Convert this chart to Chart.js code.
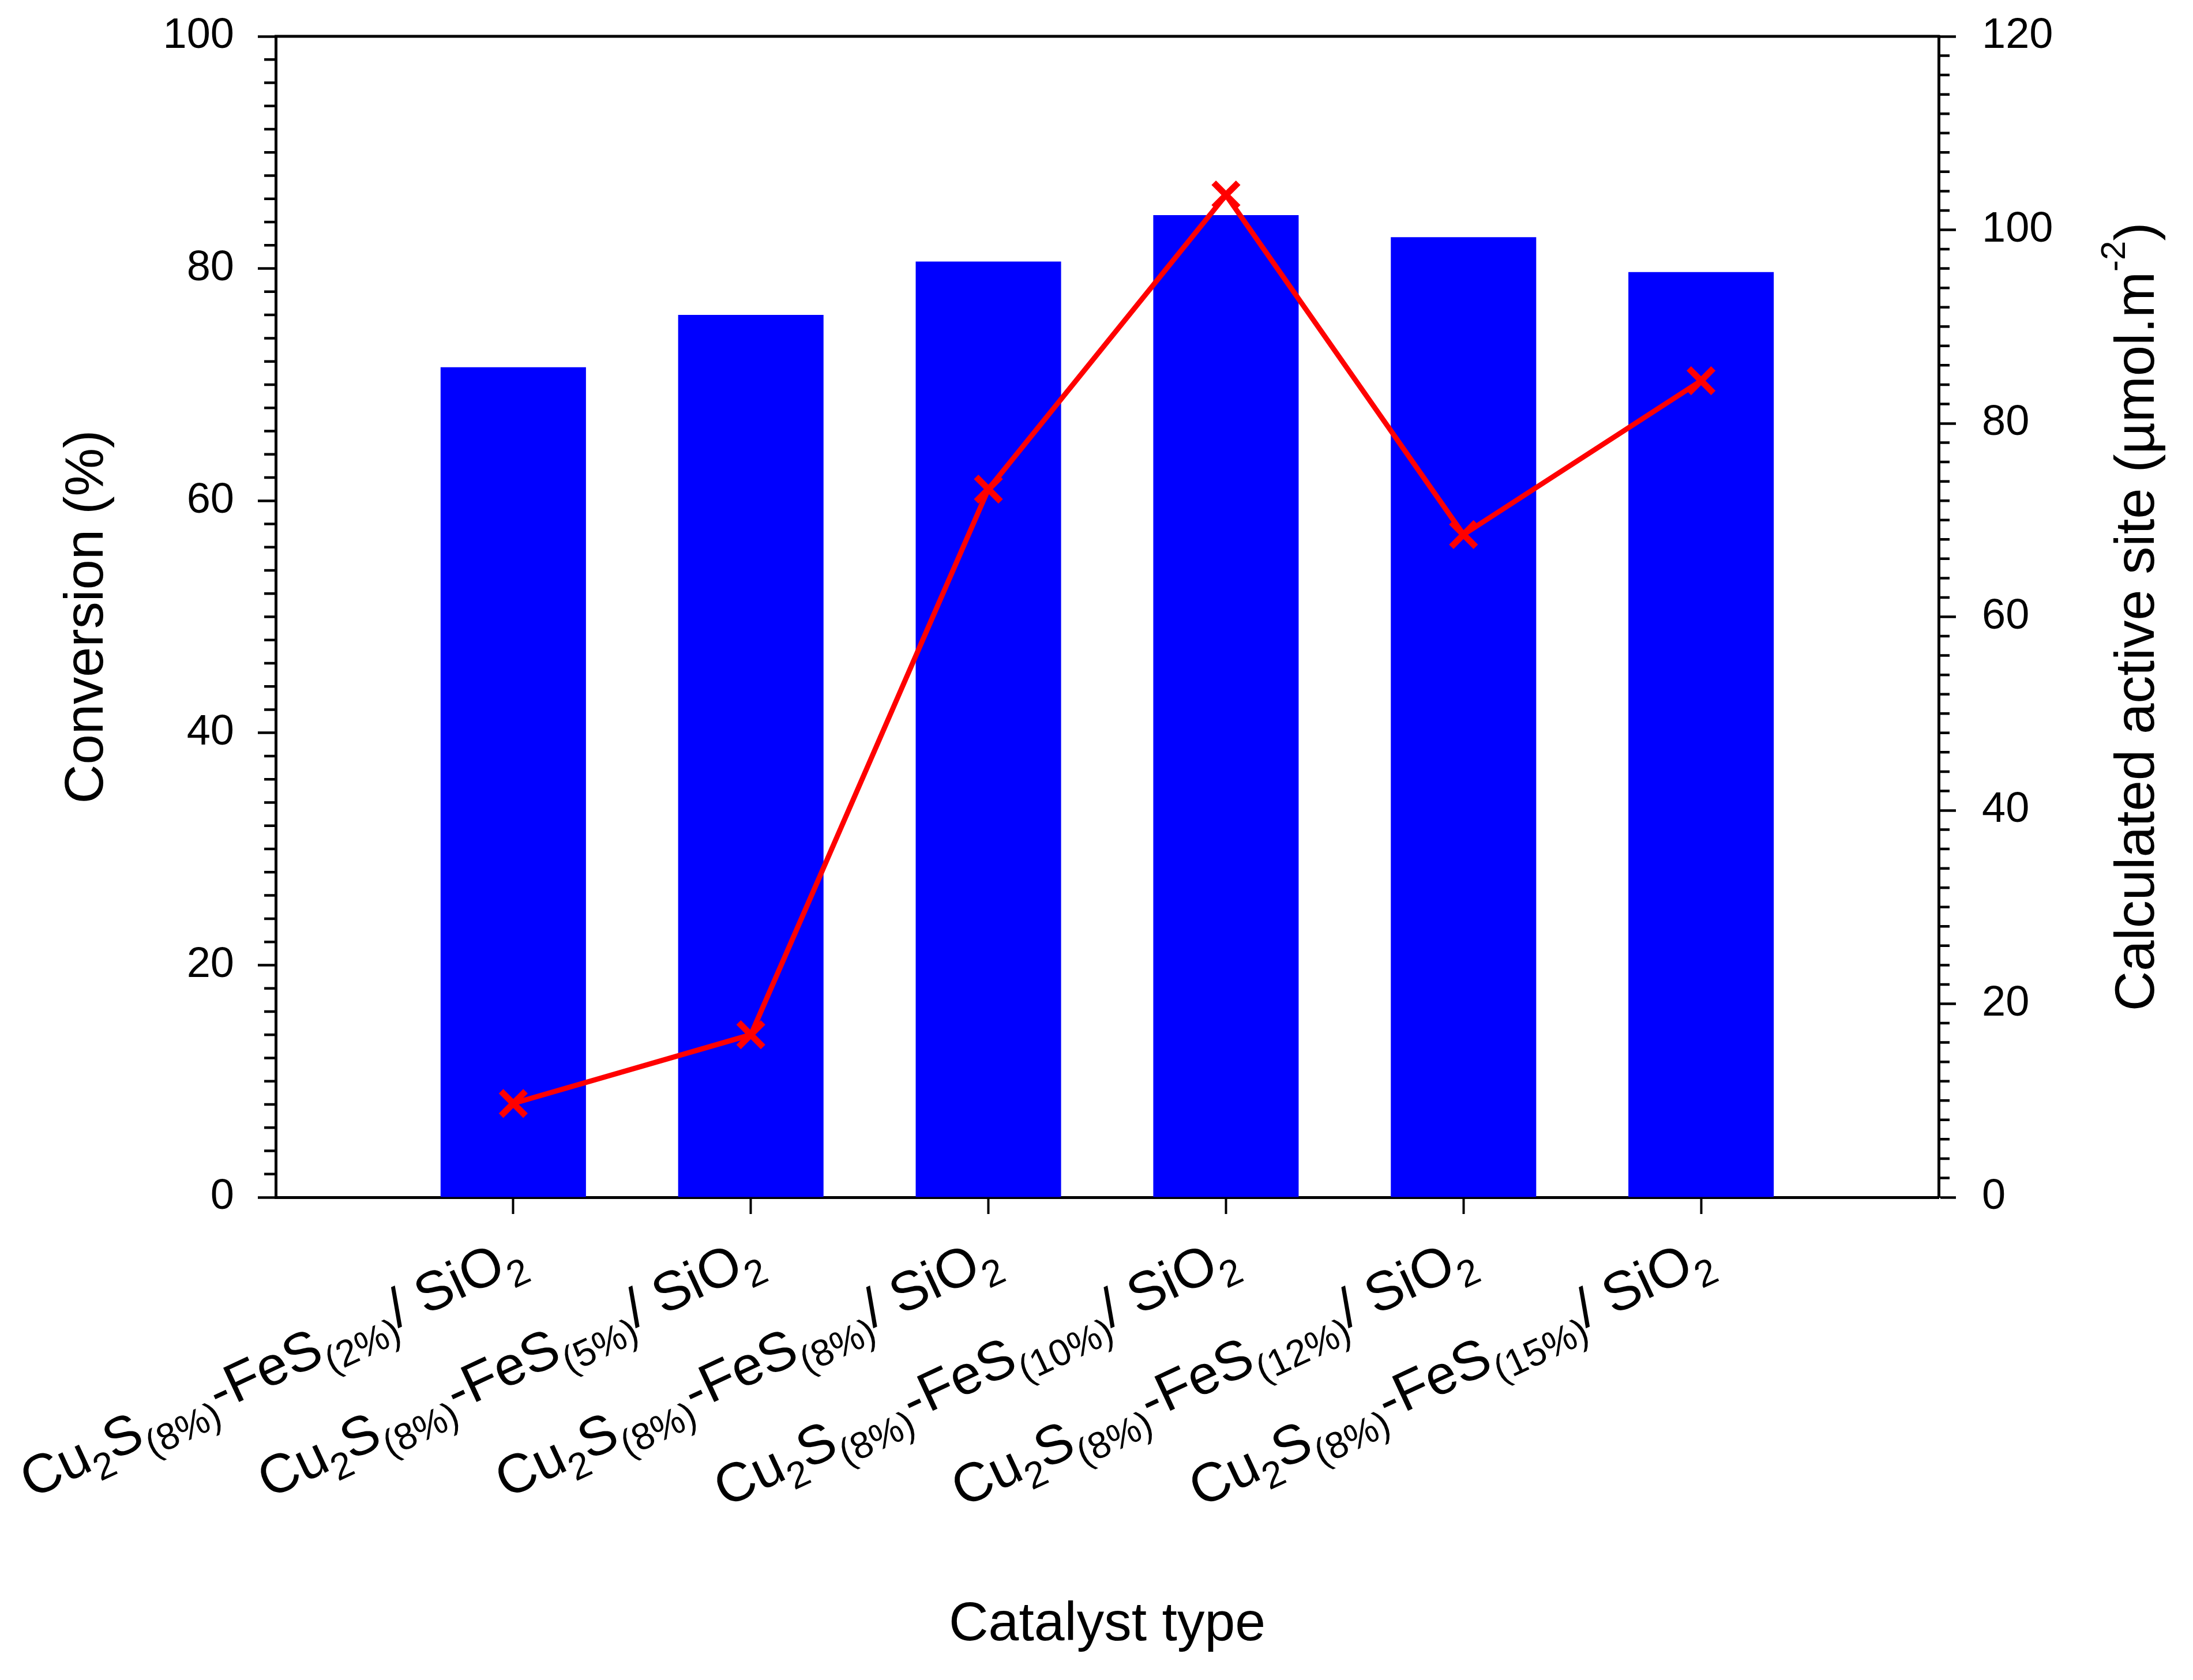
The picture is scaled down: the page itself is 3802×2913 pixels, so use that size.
<!DOCTYPE html>
<html>
<head>
<meta charset="utf-8">
<script src="https://cdn.jsdelivr.net/npm/chart.js@4.4.1/dist/chart.umd.min.js"></script>
<style>
html, body { margin: 0; padding: 0; background: #fff; }
#wrap { width: 3802px; height: 2913px; }
</style>
</head>
<body>
<div id="wrap"><canvas id="chart" width="3802" height="2913"></canvas></div>
<script>
// Categorias do eixo x (os subscritos são marcados na hora de desenhar)
const catalysts = [
    'Cu2S(8%)-FeS(2%)/ SiO2',
    'Cu2S(8%)-FeS(5%)/ SiO2',
    'Cu2S(8%)-FeS(8%)/ SiO2',
    'Cu2S(8%)-FeS(10%)/ SiO2',
    'Cu2S(8%)-FeS(12%)/ SiO2',
    'Cu2S(8%)-FeS(15%)/ SiO2'
];

// Conversão (%) - barras, eixo da esquerda
const conversion = [71.5, 76.0, 80.6, 84.6, 82.7, 79.7];

// Sítios ativos calculados (µmol.m-2) - linha, eixo da direita
const activeSite = [9.7, 16.8, 73.2, 103.6, 68.5, 84.4];

// Marcas dos eixos
const leftTicks = [0, 20, 40, 60, 80, 100];
const rightTicks = [0, 20, 40, 60, 80, 100, 120];
const minorStep = 2;

const fontFamily = "'Liberation Sans', Arial, sans-serif";
Chart.defaults.font.family = fontFamily;
Chart.defaults.color = '#000';

// Quebra o rótulo em pedaços normais e subscritos
function splitRich(label) {
    const parts = [];
    const re = /\([^)]*\)|(?<=[A-Za-z])\d+/g;
    let last = 0;
    let m;
    while ((m = re.exec(label)) !== null) {
        if (m.index > last) parts.push({ text: label.slice(last, m.index), shift: 0 });
        parts.push({ text: m[0], shift: 1 });
        last = m.index + m[0].length;
    }
    if (last < label.length) parts.push({ text: label.slice(last), shift: 0 });
    return parts;
}

// Desenha texto com sub/sobrescrito; align 'right' termina em x=0, 'center' centraliza
function drawRich(ctx, parts, size, align, ratio) {
    const small = Math.round(size * ratio);
    let total = 0;
    parts.forEach(p => {
        ctx.font = (p.shift ? small : size) + 'px ' + fontFamily;
        p.w = ctx.measureText(p.text).width;
        total += p.w;
    });
    let x = align === 'center' ? -total / 2 : -total;
    parts.forEach(p => {
        ctx.font = (p.shift ? small : size) + 'px ' + fontFamily;
        let dy = 0;
        if (p.shift === 1) dy = size * 0.25;
        if (p.shift === -1) dy = -size * 0.42;
        ctx.fillText(p.text, x, dy);
        x += p.w;
    });
}

// Tira o espaço extra que o Chart.js reserva para os rótulos das pontas
function noScalePadding(scale) {
    scale.paddingTop = 0;
    scale.paddingBottom = 0;
    scale.paddingLeft = 0;
    scale.paddingRight = 0;
}

// Plugin: moldura de cima, ticks menores, rótulos das categorias e título da direita
const extras = {
    id: 'extras',
    afterDraw(chart) {
        const ctx = chart.ctx;
        const { top, left, right, bottom } = chart.chartArea;
        const yL = chart.scales.y;
        const yR = chart.scales.y1;
        const xs = chart.scales.x;

        ctx.save();
        ctx.strokeStyle = '#000';
        ctx.lineWidth = 5;
        ctx.beginPath();
        ctx.moveTo(left - 2, top);
        ctx.lineTo(right + 2, top);
        ctx.stroke();

        // ticks menores
        ctx.lineWidth = 4.5;
        ctx.beginPath();
        for (let v = 0; v <= 100; v += minorStep) {
            if (v % 20 === 0) continue;
            const py = yL.getPixelForValue(v);
            ctx.moveTo(left - 20, py);
            ctx.lineTo(left, py);
        }
        for (let v = 0; v <= 120; v += minorStep) {
            if (v % 20 === 0) continue;
            const py = yR.getPixelForValue(v);
            ctx.moveTo(right, py);
            ctx.lineTo(right + 19, py);
        }
        ctx.stroke();

        // rótulos inclinados das categorias
        ctx.fillStyle = '#000';
        ctx.textBaseline = 'alphabetic';
        ctx.textAlign = 'left';
        catalysts.forEach((label, i) => {
            const px = xs.getPixelForValue(i + 1);
            ctx.save();
            ctx.translate(px + 24, bottom + 122);
            ctx.rotate(-25 * Math.PI / 180);
            drawRich(ctx, splitRich(label), 95, 'right', 0.68);
            ctx.restore();
        });

        // título do eixo da direita (lido de baixo para cima)
        ctx.save();
        ctx.translate(3708, (top + bottom) / 2);
        ctx.rotate(-Math.PI / 2);
        ctx.textBaseline = 'middle';
        drawRich(ctx, [
            { text: 'Calculated active site (\u00b5mol.m', shift: 0 },
            { text: '-2', shift: -1 },
            { text: ')', shift: 0 }
        ], 96, 'center', 0.62);
        ctx.restore();

        ctx.restore();
    }
};

const ctx = document.getElementById('chart').getContext('2d');
new Chart(ctx, {
    type: 'bar',
    data: {
        datasets: [
            {
                type: 'line',
                label: 'Calculated active site',
                data: activeSite.map((v, i) => ({ x: i + 1, y: v })),
                yAxisID: 'y1',
                borderColor: '#ff0000',
                backgroundColor: '#ff0000',
                borderWidth: 9,
                pointStyle: 'crossRot',
                pointRadius: 30,
                pointBorderWidth: 11,
                pointBorderColor: '#ff0000',
                order: 0
            },
            {
                type: 'bar',
                label: 'Conversion',
                data: conversion.map((v, i) => ({ x: i + 1, y: v })),
                yAxisID: 'y',
                backgroundColor: '#0000ff',
                borderWidth: 0,
                categoryPercentage: 1,
                barPercentage: 0.612,
                order: 1
            }
        ]
    },
    options: {
        responsive: false,
        animation: false,
        devicePixelRatio: 1,
        layout: { padding: { top: 63, left: 0, right: 0, bottom: 0 } },
        plugins: {
            legend: { display: false },
            tooltip: { enabled: false }
        },
        scales: {
            x: {
                type: 'linear',
                min: 0,
                max: 7,
                offset: false,
                afterBuildTicks: scale => {
                    scale.ticks = catalysts.map((c, i) => ({ value: i + 1 }));
                },
                afterFit: scale => {
                    scale.height = 837;
                    noScalePadding(scale);
                },
                ticks: { display: false },
                grid: {
                    offset: false,
                    drawOnChartArea: false,
                    tickLength: 29,
                    tickWidth: 4,
                    tickColor: '#000'
                },
                border: { display: true, color: '#000', width: 5 },
                title: {
                    display: true,
                    text: 'Catalyst type',
                    font: { size: 95 },
                    padding: { top: 0, bottom: 38 }
                }
            },
            y: {
                position: 'left',
                min: 0,
                max: 100,
                afterBuildTicks: scale => {
                    scale.ticks = leftTicks.map(v => ({ value: v }));
                },
                afterFit: scale => {
                    scale.width = 478;
                    noScalePadding(scale);
                },
                ticks: { font: { size: 74 }, padding: 41 },
                grid: {
                    drawOnChartArea: false,
                    tickLength: 31,
                    tickWidth: 4.5,
                    tickColor: '#000'
                },
                border: { display: true, color: '#000', width: 5 },
                title: {
                    display: true,
                    text: 'Conversion (%)',
                    font: { size: 94 },
                    padding: { top: 96, bottom: 0 }
                }
            },
            y1: {
                position: 'right',
                min: 0,
                max: 120,
                afterBuildTicks: scale => {
                    scale.ticks = rightTicks.map(v => ({ value: v }));
                },
                afterFit: scale => {
                    scale.width = 441;
                    noScalePadding(scale);
                },
                ticks: { font: { size: 74 }, padding: 45 },
                grid: {
                    drawOnChartArea: false,
                    tickLength: 30,
                    tickWidth: 4.5,
                    tickColor: '#000'
                },
                border: { display: true, color: '#000', width: 5 }
            }
        }
    },
    plugins: [extras]
});
</script>
</body>
</html>
